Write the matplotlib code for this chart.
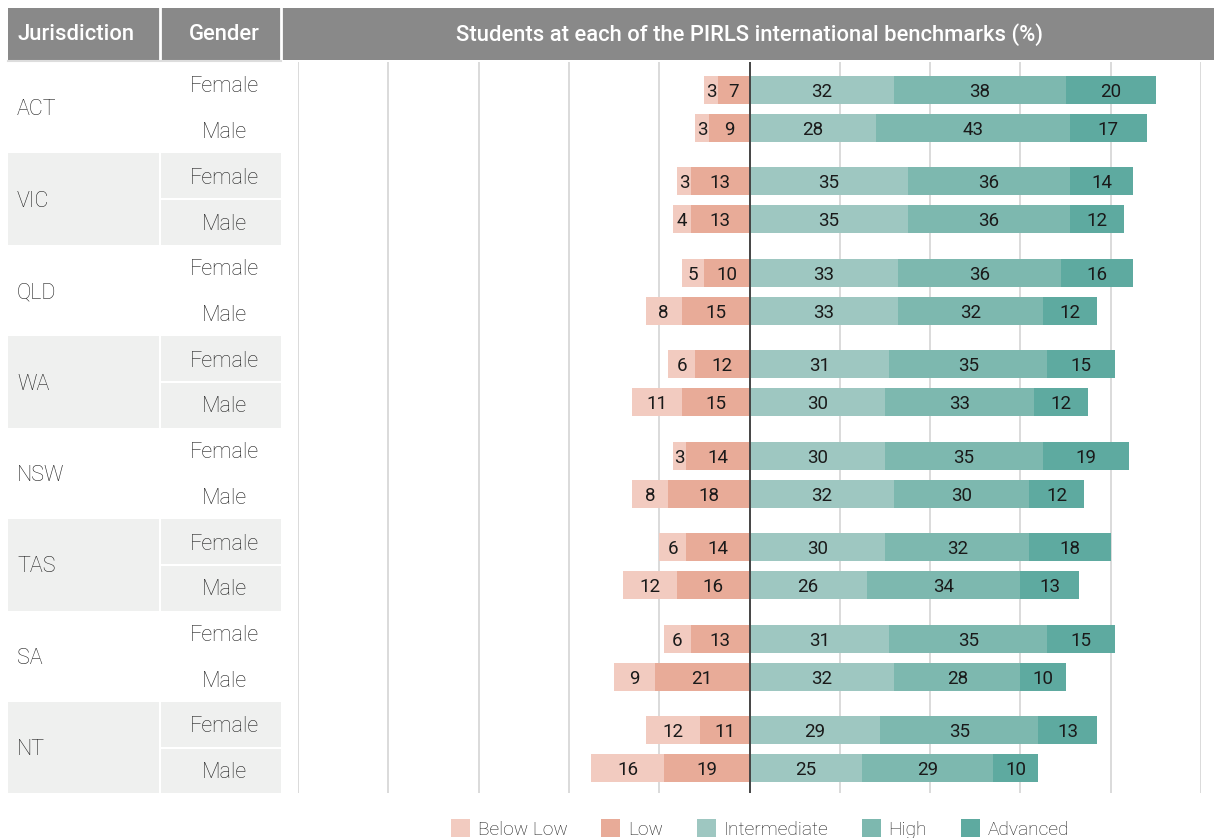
import matplotlib.pyplot as plt
import numpy as np
from matplotlib.patches import Rectangle, Patch

JURISDICTIONS = ["ACT", "VIC", "QLD", "WA", "NSW", "TAS", "SA", "NT"]
GENDERS = ["Female", "Male"]
LEVELS = ["Below Low", "Low", "Intermediate", "High", "Advanced"]

# one row per jurisdiction x gender (Female, Male)
BELOW_LOW = [3, 3, 3, 4, 5, 8, 6, 11, 3, 8, 6, 12, 6, 9, 12, 16]
LOW = [7, 9, 13, 13, 10, 15, 12, 15, 14, 18, 14, 16, 13, 21, 11, 19]
INTERMEDIATE = [32, 28, 35, 35, 33, 33, 31, 30, 30, 32, 30, 26, 31, 32, 29, 25]
HIGH = [38, 43, 36, 36, 36, 32, 35, 33, 35, 30, 32, 34, 35, 28, 35, 29]
ADVANCED = [20, 17, 14, 12, 16, 12, 15, 12, 19, 12, 18, 13, 15, 10, 13, 10]

COLORS = {
    "Below Low": "#f2cbc0",
    "Low": "#e8ab98",
    "Intermediate": "#9ec7c1",
    "High": "#7db8af",
    "Advanced": "#5eaaa0",
}
HEADER_GRAY = "#898989"
SHADE = "#eff0ef"
TEXT = "#1f1f1f"

W, H = 1214, 838
plt.rcParams["font.family"] = ["Roboto", "DejaVu Sans"]

fig = plt.figure(figsize=(W / 100, H / 100), dpi=100)

# --- table / header layer in pixel coordinates
bg = fig.add_axes([0, 0, 1, 1])
bg.set_xlim(0, W)
bg.set_ylim(H, 0)
bg.axis("off")

top, step = 62, 91.43
bg.add_patch(Rectangle((8, 8), W - 8, 52, color=HEADER_GRAY, lw=0))
for x in (160, 281):
    bg.plot([x, x], [8, 60], color="white", lw=2)
bg.plot([8, 281], [61, 61], color="#dddddd", lw=1.5)
hdr = dict(color="white", fontsize=15.8, fontweight="medium", va="center")
bg.text(17, 35, "Jurisdiction", **hdr)
bg.text(224, 35, "Gender", ha="center", **hdr)
bg.text(750, 35, "Students at each of the PIRLS international benchmarks (%)", ha="center", **hdr)

for i, name in enumerate(JURISDICTIONS):
    y0 = top + i * step
    if i % 2 == 1:
        bg.add_patch(Rectangle((8, y0), 150.5, step, color=SHADE, lw=0))
        bg.add_patch(Rectangle((161, y0), 120, step, color=SHADE, lw=0))
        bg.plot([161, 281], [y0 + step / 2, y0 + step / 2], color="white", lw=1.5)
    bg.text(17, y0 + step / 2 + 2, name, fontsize=15.5, fontweight="light",
            color=TEXT, va="center")
    for j, g in enumerate(GENDERS):
        bg.text(224.5, y0 + step * (0.25 + 0.5 * j) + 2, g, fontsize=15.5, fontweight="light",
                color=TEXT, va="center", ha="center")

# --- chart layer
ax_left, ax_right = 298, 1201
ax_top, ax_bot = top, top + 8 * step
ax = fig.add_axes([ax_left / W, 1 - ax_bot / H, (ax_right - ax_left) / W, (ax_bot - ax_top) / H])
ax.set_xlim(-100, 100)
ax.set_ylim(8, 0)
ax.axis("off")
for gx in np.arange(-100, 101, 20):
    if gx == 0:
        continue
    ax.axvline(gx, color="#dadada", lw=1.4, zorder=0)

n = len(BELOW_LOW)
ypos = np.array([i // 2 + (0.306 if i % 2 == 0 else 0.722) for i in range(n)])
bh = 0.305

below = np.array(BELOW_LOW)
low = np.array(LOW)
inter = np.array(INTERMEDIATE)
high = np.array(HIGH)
adv = np.array(ADVANCED)

segments = [
    ("Below Low", below, -(low + below)),
    ("Low", low, -low),
    ("Intermediate", inter, np.zeros(n)),
    ("High", high, inter),
    ("Advanced", adv, inter + high),
]
for level, vals, left in segments:
    bars = ax.barh(ypos, vals, left=left, height=bh, color=COLORS[level], lw=0, zorder=2)
    texts = ax.bar_label(bars, labels=[str(v) for v in vals], label_type="center",
                         fontsize=13.5, color="#1a1a1a")
    for t in texts:
        t.set_va("center_baseline")

ax.axvline(0, ymin=0, ymax=1, color="#444444", lw=1.4, zorder=3)

handles = [Patch(color=COLORS[l], lw=0) for l in LEVELS]
leg = fig.legend(handles, LEVELS, loc="center", bbox_to_anchor=(760 / W, 1 - 829 / H), ncol=5,
                 frameon=False, handlelength=1.0, handleheight=1.0,
                 handletextpad=0.4, columnspacing=1.75,
                 prop={"weight": "light", "size": 13.8})
for t in leg.get_texts():
    t.set_color(TEXT)

fig.savefig("out.png", dpi=100)
